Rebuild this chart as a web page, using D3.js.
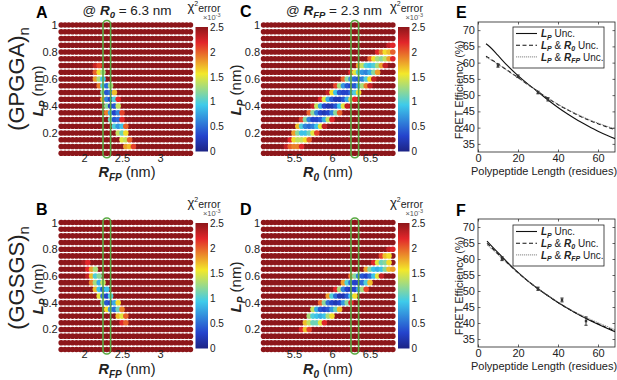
<!DOCTYPE html>
<html>
<head>
<meta charset="utf-8">
<script src="https://cdn.jsdelivr.net/npm/d3@7"></script>
<style>
  body { margin: 0; background: #fff; }
  svg { font-family: "Liberation Sans", Arial, sans-serif; }
</style>
</head>
<body>
<svg id="fig" width="617" height="380"></svg>
<script>
// ---------- DATA ----------

// L_P grid (rows), R_FP / R_0 grids (columns)
var lpGrid  = [0.05, 0.1, 0.15, 0.2, 0.25, 0.3, 0.35, 0.4, 0.45, 0.5,
               0.55, 0.6, 0.65, 0.7, 0.75, 0.8, 0.85, 0.9, 0.95, 1];
var rfpGrid = d3.range(35).map(function (i) { return +(1.7 + 0.05 * i).toFixed(2); });
var r0Grid  = d3.range(35).map(function (i) { return +(5.1 + 0.05 * i).toFixed(2); });

// chi2 error (x1e-3) of the cells below the 2.5 cap:
// [L_P, first column value, values along the row]; every other cell is >= 2.5
var chiA = [
  [0.70, 2.15, [2.3, 2.1]],
  [0.65, 2.15, [2.0, 1.6, 1.3]],
  [0.60, 2.15, [1.8, 1.3, 0.9]],
  [0.55, 2.20, [1.9, 1.0, 0.5, 1.3]],
  [0.50, 2.25, [1.2, 0.4, 0.5, 1.7]],
  [0.45, 2.25, [1.8, 0.6, 0.3, 1.0, 2.2]],
  [0.40, 2.30, [1.2, 0.3, 0.4, 1.4]],
  [0.35, 2.30, [1.9, 0.8, 0.3, 0.6, 2.1]],
  [0.30, 2.35, [1.1, 0.4, 0.5, 2.2]],
  [0.25, 2.40, [1.0, 0.7, 0.9, 2.0]],
  [0.20, 2.45, [1.4, 1.1, 1.6]],
  [0.15, 2.50, [1.5, 1.4, 2.0]],
  [0.10, 2.55, [1.8, 1.7, 2.1]]
];
var chiC = [
  [0.85, 6.75, [2.3, 2.2]],
  [0.80, 6.60, [2.2, 1.9, 1.6, 1.7, 2.0]],
  [0.75, 6.50, [2.0, 1.6, 1.3, 1.2, 1.4, 1.8, 2.2]],
  [0.70, 6.35, [1.8, 1.4, 1.0, 0.9, 1.0, 1.3, 1.8, 2.3]],
  [0.65, 6.25, [2.2, 1.5, 1.0, 0.7, 0.6, 0.8, 1.2, 1.8]],
  [0.60, 6.15, [2.0, 1.2, 0.7, 0.5, 0.4, 0.6, 1.0, 1.6, 2.3]],
  [0.55, 6.05, [2.1, 1.3, 0.7, 0.4, 0.3, 0.4, 0.8, 1.3, 1.9, 2.3]],
  [0.50, 5.95, [2.3, 1.6, 0.9, 0.4, 0.3, 0.3, 0.5, 1.0, 1.6]],
  [0.45, 5.85, [2.2, 1.5, 0.8, 0.4, 0.2, 0.2, 0.4, 0.8, 1.4, 2.2]],
  [0.40, 5.75, [2.3, 1.4, 0.8, 0.3, 0.2, 0.2, 0.4, 0.9, 1.5, 2.3]],
  [0.35, 5.70, [2.0, 1.2, 0.6, 0.3, 0.2, 0.3, 0.6, 1.2, 2.0]],
  [0.30, 5.60, [2.1, 1.2, 0.6, 0.3, 0.3, 0.4, 0.8, 1.4, 2.2]],
  [0.25, 5.55, [1.7, 1.0, 0.6, 0.5, 0.6, 0.9, 1.5, 2.3]],
  [0.20, 5.50, [1.8, 1.2, 0.9, 0.9, 1.1, 1.5, 2.1]],
  [0.15, 5.45, [2.2, 1.6, 1.4, 1.4, 1.6, 2.0]],
  [0.10, 5.40, [2.3, 2.0, 1.9, 1.9, 2.2]]
];
var chiB = [
  [0.70, 2.00, [2.4, 2.2]],
  [0.65, 2.05, [2.2, 1.8, 1.3]],
  [0.60, 2.05, [2.3, 1.7, 1.0, 1.2]],
  [0.55, 2.10, [1.9, 1.3, 0.8, 1.4]],
  [0.50, 2.15, [1.7, 0.9, 0.4, 0.9]],
  [0.45, 2.20, [1.5, 0.5, 0.3, 1.0]],
  [0.40, 2.25, [1.2, 0.4, 0.3, 0.8, 1.6]],
  [0.35, 2.30, [1.6, 0.7, 0.5, 1.1, 1.9]],
  [0.30, 2.45, [1.7, 1.5, 2.0]],
  [0.25, 2.50, [2.2, 2.0]]
];
var chiD = [
  [0.80, 6.75, [2.3, 2.2]],
  [0.75, 6.65, [2.1, 1.7, 1.6]],
  [0.70, 6.55, [2.2, 1.5, 1.1, 1.2, 1.6]],
  [0.65, 6.45, [1.8, 1.2, 0.9, 0.8, 0.9, 1.2, 1.7, 1.8]],
  [0.60, 6.25, [1.9, 1.2, 0.6, 0.4, 0.3, 0.5, 0.9, 1.5, 2.3]],
  [0.55, 6.15, [1.8, 1.0, 0.5, 0.3, 0.3, 0.5, 1.0, 1.7]],
  [0.50, 6.05, [2.2, 1.3, 0.6, 0.3, 0.2, 0.3, 0.7, 1.3, 2.1]],
  [0.45, 5.95, [1.8, 1.0, 0.5, 0.2, 0.2, 0.4, 0.9, 1.6]],
  [0.40, 5.85, [2.0, 1.2, 0.5, 0.3, 0.2, 0.3, 0.7, 1.2, 2.2]],
  [0.35, 5.75, [1.4, 0.8, 0.4, 0.3, 0.4, 0.7, 1.1, 1.7]],
  [0.30, 5.70, [1.3, 1.0, 0.9, 0.8, 0.9, 1.3, 1.6]],
  [0.25, 5.65, [1.7, 1.4, 1.1, 1.1, 1.5, 2.2]],
  [0.20, 5.60, [2.2, 1.7, 2.1]]
];

var chiTicks   = [0, 0.5, 1, 1.5, 2, 2.5];
var lpTicks    = [0.2, 0.4, 0.6, 0.8, 1];
var rfpTicks   = [2, 2.5, 3];
var r0Ticks    = [5.5, 6, 6.5];

// FRET efficiency vs polypeptide length
var lenE     = [4, 6, 10, 15, 20, 25, 30, 35, 40, 45, 50, 55, 60, 65, 68.5];
var effE_lp  = [65.8, 64.8, 62.2, 58.9, 56.0, 53.4, 51.0, 48.5, 46.2, 44.1, 42.2, 40.5, 38.9, 37.5, 36.6];
var effE_r0  = [62.0, 61.2, 59.6, 57.5, 55.4, 53.2, 51.1, 49.0, 47.1, 45.4, 43.8, 42.4, 41.2, 40.1, 39.4];
var effE_rfp = [61.6, 61.0, 59.5, 57.4, 55.3, 53.2, 51.1, 49.1, 47.2, 45.5, 44.0, 42.6, 41.4, 40.3, 39.6];
var ptsLenE  = [10, 20, 30, 35];
var ptsEffE  = [59.1, 55.8, 50.8, 48.7];
var ptsErrE  = [0.5, 0.4, 0.4, 0.5];

var lenF     = [4.5, 6, 10, 15, 20, 25, 30, 35, 40, 45, 50, 55, 60, 65, 68.5];
var effF_lp  = [65.6, 64.6, 62.0, 58.8, 55.8, 53.1, 50.7, 48.5, 46.4, 44.5, 42.7, 41.1, 39.6, 38.2, 37.3];
var effF_r0  = [64.9, 64.0, 61.6, 58.6, 55.7, 53.1, 50.7, 48.5, 46.4, 44.5, 42.8, 41.2, 39.8, 38.4, 37.6];
var effF_rfp = [64.4, 63.6, 61.3, 58.4, 55.6, 53.0, 50.7, 48.6, 46.6, 44.7, 43.0, 41.5, 40.1, 38.8, 37.9];
var ptsLenF  = [12, 30, 42, 54];
var ptsEffF  = [60.1, 50.7, 47.2, 40.6];
var ptsErrF  = [0.6, 0.5, 0.6, 1.3];

var effTicks = [35, 40, 45, 50, 55, 60, 65, 70];
var lenTicks = [0, 20, 40, 60];

// ---------- SETUP ----------
var svg = d3.select('#fig');
var defs = svg.append('defs');

var jetStops  = [0, 0.3125, 0.9375, 1.5625, 2.1875, 2.5];
var jetColors = ['#1c2385', '#2443cc', '#3ecbea', '#f3e82a', '#e2262a', '#8d161a'];
var jet = d3.scaleLinear().domain(jetStops).range(jetColors).clamp(true);
var capColor = jetColors[5];

var grad = defs.append('linearGradient').attr('id', 'jetGrad')
  .attr('x1', 0).attr('y1', 1).attr('x2', 0).attr('y2', 0);
jetStops.forEach(function (s, i) {
  grad.append('stop').attr('offset', s / 2.5).attr('stop-color', jetColors[i]);
});

function key(lp, xv) { return lp.toFixed(2) + '|' + xv.toFixed(2); }

// text made of tspans: {t, bi, dy, fs}
function rich(text, parts) {
  var off = 0;
  parts.forEach(function (p) {
    var target = p.dy || 0;
    var ts = text.append('tspan').text(p.t).attr('dy', target - off);
    off = target;
    if (p.bi) ts.attr('font-weight', 'bold').attr('font-style', 'italic');
    if (p.fs) ts.attr('font-size', p.fs);
  });
  return text;
}

function styleAxis(a, size) {
  a.select('.domain').remove();
  a.attr('font-family', null).attr('font-size', null);
  a.selectAll('text').attr('font-size', size).attr('fill', '#222');
  a.selectAll('line').attr('stroke', '#222').attr('stroke-width', 0.7);
}

/**
 * One chi2 dot map
 */
function heatmap(o) {
  var g = svg.append('g');
  var chi = new Map();
  o.band.forEach(function (row) {
    row[2].forEach(function (v, i) { chi.set(key(row[0], row[1] + 0.05 * i), v); });
  });

  var cells = [];
  lpGrid.forEach(function (lp) {
    o.grid.forEach(function (xv) {
      cells.push({ lp: lp, xv: xv, v: chi.get(key(lp, xv)) });
    });
  });
  // capped cells first, coloured ones drawn on top
  cells.sort(function (a, b) { return (a.v !== undefined) - (b.v !== undefined); });

  g.selectAll('circle').data(cells).join('circle')
    .attr('cx', function (d) { return o.x(d.xv); })
    .attr('cy', function (d) { return o.y(d.lp); })
    .attr('r', 2.8)
    .attr('fill', function (d) { return d.v === undefined ? capColor : jet(d.v); });

  // highlighted column
  var top = o.y(1), bot = o.y(0.05);
  g.append('rect')
    .attr('x', o.x(o.mark) - 3.8).attr('y', top - 4.5)
    .attr('width', 7.6).attr('height', bot - top + 9)
    .attr('rx', 3.5)
    .attr('fill', 'none').attr('stroke', '#5aaa44').attr('stroke-width', 1.6);

  // axes
  g.append('g').attr('transform', 'translate(0,' + (bot - 1) + ')')
    .call(d3.axisBottom(o.x).tickValues(o.xTicks).tickSize(0).tickPadding(1.5)
      .tickFormat(function (d) { return d; }))
    .call(styleAxis, 11);
  g.append('g').attr('transform', 'translate(' + (o.x(o.grid[0]) - 2) + ',0)')
    .call(d3.axisLeft(o.y).tickValues(lpTicks).tickSize(0).tickPadding(1.5)
      .tickFormat(function (d) { return d; }))
    .call(styleAxis, 11);

  // axis titles
  rich(g.append('text').attr('x', o.xTitle[0]).attr('y', o.xTitle[1])
      .attr('text-anchor', 'middle').attr('font-size', 14.5).attr('fill', '#222'),
    o.xName);
  rich(g.append('text')
      .attr('transform', 'translate(' + o.yTitle[0] + ',' + o.yTitle[1] + ') rotate(-90)')
      .attr('text-anchor', 'middle').attr('font-size', 15).attr('fill', '#222'),
    [{ t: 'L', bi: 1 }, { t: 'P', bi: 1, dy: 4, fs: 10 }, { t: ' (nm)' }]);

  // panel letter and title
  g.append('text').attr('x', o.letter[0]).attr('y', o.letter[1])
    .attr('font-size', 16).attr('font-weight', 'bold').text(o.id);
  if (o.title) {
    rich(g.append('text').attr('x', o.title[0]).attr('y', o.title[1])
        .attr('text-anchor', 'middle').attr('font-size', 13.5).attr('fill', '#222'),
      o.titleParts);
  }

  // colour bar
  var cb = d3.scaleLinear().domain([0, 2.5]).range(o.cbY);
  g.append('rect').attr('x', o.cbX).attr('y', o.cbY[1])
    .attr('width', o.cbW).attr('height', o.cbY[0] - o.cbY[1])
    .attr('fill', 'url(#jetGrad)');
  g.append('g').attr('transform', 'translate(' + (o.cbX + o.cbW) + ',0)')
    .call(d3.axisRight(cb).tickValues(chiTicks).tickSize(0).tickPadding(2)
      .tickFormat(function (d) { return d; }))
    .call(styleAxis, 10);
  var tx = o.cbX - 8, ty = o.cbY[1] - 16;
  rich(g.append('text').attr('x', tx).attr('y', ty).attr('font-size', 13).attr('fill', '#222'),
    [{ t: '\u03c7' }, { t: '2', dy: -5, fs: 7 }, { t: 'error', dy: 0.5, fs: 10.5 }]);
  rich(g.append('text').attr('x', tx + 33).attr('y', ty + 8.5)
      .attr('text-anchor', 'end').attr('font-size', 7.5).attr('fill', '#555'),
    [{ t: '\u00d710' }, { t: '-3', dy: -2.5, fs: 5.5 }]);
}

var xRfp = d3.scaleLinear().domain([2, 3]).range([84, 160]);
var xR0  = d3.scaleLinear().domain([5.5, 6.5]).range([294, 370]);
var yTop = d3.scaleLinear().domain([0.05, 1]).range([153.2, 25]);
var yBot = d3.scaleLinear().domain([0.05, 1]).range([349.5, 222.5]);

var rfpName = [{ t: 'R', bi: 1 }, { t: 'FP', bi: 1, dy: 4, fs: 10 }, { t: ' (nm)' }];
var r0Name  = [{ t: 'R', bi: 1 }, { t: '0', bi: 1, dy: 4, fs: 10 }, { t: ' (nm)' }];

heatmap({ id: 'A', band: chiA, grid: rfpGrid, x: xRfp, y: yTop, mark: 2.3,
  xTicks: rfpTicks, xName: rfpName, xTitle: [127, 176.5], yTitle: [43, 91],
  letter: [36, 18], title: [127, 15],
  titleParts: [{ t: '@ ' }, { t: 'R', bi: 1 }, { t: '0', bi: 1, dy: 3, fs: 9.5 }, { t: ' = 6.3 nm' }],
  cbX: 195.5, cbW: 12.5, cbY: [151.5, 27] });
heatmap({ id: 'C', band: chiC, grid: r0Grid, x: xR0, y: yTop, mark: 6.3,
  xTicks: r0Ticks, xName: r0Name, xTitle: [328, 176.5], yTitle: [241, 90],
  letter: [240, 17], title: [334, 15],
  titleParts: [{ t: '@ ' }, { t: 'R', bi: 1 }, { t: 'FP', bi: 1, dy: 3, fs: 9.5 }, { t: ' = 2.3 nm' }],
  cbX: 398, cbW: 11.5, cbY: [151.5, 27] });
heatmap({ id: 'B', band: chiB, grid: rfpGrid, x: xRfp, y: yBot, mark: 2.3,
  xTicks: rfpTicks, xName: rfpName, xTitle: [127, 373.5], yTitle: [43, 289],
  letter: [36, 215],
  cbX: 195.5, cbW: 12.5, cbY: [348.5, 223] });
heatmap({ id: 'D', band: chiD, grid: r0Grid, x: xR0, y: yBot, mark: 6.3,
  xTicks: r0Ticks, xName: r0Name, xTitle: [328, 373.5], yTitle: [241, 287],
  letter: [240, 215],
  cbX: 398, cbW: 11.5, cbY: [348.5, 223] });

// row group labels
[['(GPGGA)', 79], ['(GGSGS)', 278]].forEach(function (r) {
  rich(svg.append('text')
      .attr('transform', 'translate(24,' + r[1] + ') rotate(-90)')
      .attr('text-anchor', 'middle').attr('font-size', 22).attr('fill', '#222'),
    [{ t: r[0] }, { t: 'n', dy: 5, fs: 15 }]);
});

/**
 * FRET efficiency panel
 */
function fretPanel(o) {
  var g = svg.append('g');
  var x = d3.scaleLinear().domain([0, 68.5]).range([478, 615]);
  var y = d3.scaleLinear().domain([32.5, 72.5]).range([o.bottom, o.top]);
  var clipId = 'clip' + o.id;

  defs.append('clipPath').attr('id', clipId).append('rect')
    .attr('x', 478).attr('y', o.top).attr('width', 137).attr('height', o.bottom - o.top);

  var line = d3.line()
    .x(function (d) { return x(d[0]); })
    .y(function (d) { return y(d[1]); })
    .curve(d3.curveMonotoneX);

  var series = [
    { v: o.lp,  stroke: '#111', w: 1.1, dash: null },
    { v: o.r0,  stroke: '#111', w: 1.1, dash: '4,2.5' },
    { v: o.rfp, stroke: '#777', w: 0.9, dash: '1.2,0.8' }
  ];

  var plot = g.append('g').attr('clip-path', 'url(#' + clipId + ')');
  plot.selectAll('path.curve').data(series).join('path')
    .attr('class', 'curve')
    .attr('d', function (s) { return line(o.len.map(function (l, i) { return [l, s.v[i]]; })); })
    .attr('fill', 'none')
    .attr('stroke', function (s) { return s.stroke; })
    .attr('stroke-width', function (s) { return s.w; })
    .attr('stroke-dasharray', function (s) { return s.dash; });

  // measured points with error bars
  var pts = o.ptsLen.map(function (l, i) { return { l: l, e: o.ptsEff[i], err: o.ptsErr[i] }; });
  var eb = plot.selectAll('g.pt').data(pts).join('g').attr('class', 'pt')
    .attr('stroke', '#333').attr('stroke-width', 1);
  eb.append('line')
    .attr('x1', function (d) { return x(d.l); }).attr('x2', function (d) { return x(d.l); })
    .attr('y1', function (d) { return y(d.e - d.err); }).attr('y2', function (d) { return y(d.e + d.err); });
  [-1, 1].forEach(function (s) {
    eb.append('line')
      .attr('x1', function (d) { return x(d.l) - 1.6; }).attr('x2', function (d) { return x(d.l) + 1.6; })
      .attr('y1', function (d) { return y(d.e + s * d.err); }).attr('y2', function (d) { return y(d.e + s * d.err); });
  });
  eb.append('rect')
    .attr('x', function (d) { return x(d.l) - 1.2; }).attr('y', function (d) { return y(d.e) - 1.2; })
    .attr('width', 2.4).attr('height', 2.4).attr('fill', '#333').attr('stroke', 'none');

  // box and ticks
  g.append('rect').attr('x', 478).attr('y', o.top).attr('width', 137).attr('height', o.bottom - o.top)
    .attr('fill', 'none').attr('stroke', '#222').attr('stroke-width', 0.8);
  g.append('g').attr('transform', 'translate(0,' + o.bottom + ')')
    .call(d3.axisBottom(x).tickValues(lenTicks).tickSizeInner(-2.5).tickSizeOuter(0).tickPadding(2))
    .call(styleAxis, 11);
  g.append('g').attr('transform', 'translate(0,' + o.top + ')')
    .call(d3.axisTop(x).tickValues(lenTicks).tickSizeInner(-2.5).tickSizeOuter(0).tickFormat(''))
    .call(styleAxis, 11);
  g.append('g').attr('transform', 'translate(478,0)')
    .call(d3.axisLeft(y).tickValues(effTicks).tickSizeInner(-2.5).tickSizeOuter(0).tickPadding(3))
    .call(styleAxis, 11);
  g.append('g').attr('transform', 'translate(615,0)')
    .call(d3.axisRight(y).tickValues(effTicks).tickSizeInner(-2.5).tickSizeOuter(0).tickFormat(''))
    .call(styleAxis, 11);

  // titles
  g.append('text').attr('x', 544).attr('y', o.bottom + 23)
    .attr('text-anchor', 'middle').attr('font-size', 11).attr('fill', '#222')
    .text('Polypeptide Length (residues)');
  g.append('text')
    .attr('transform', 'translate(463,' + ((o.top + o.bottom) / 2 + 3) + ') rotate(-90)')
    .attr('text-anchor', 'middle').attr('font-size', 11).attr('fill', '#222')
    .text('FRET Efficiency (%)');
  g.append('text').attr('x', 456).attr('y', o.letter)
    .attr('font-size', 16).attr('font-weight', 'bold').text(o.id);

  // legend
  var lg = g.append('g');
  lg.append('rect').attr('x', 513).attr('y', o.legTop).attr('width', 91).attr('height', 41)
    .attr('fill', '#fff').attr('stroke', '#222').attr('stroke-width', 0.8);
  var labels = [
    [{ t: 'L', bi: 1 }, { t: 'P', bi: 1, dy: 2.5, fs: 7 }, { t: ' Unc.' }],
    [{ t: 'L', bi: 1 }, { t: 'P', bi: 1, dy: 2.5, fs: 7 }, { t: ' & ' }, { t: 'R', bi: 1 },
     { t: '0', bi: 1, dy: 2.5, fs: 7 }, { t: ' Unc.' }],
    [{ t: 'L', bi: 1 }, { t: 'P', bi: 1, dy: 2.5, fs: 7 }, { t: ' & ' }, { t: 'R', bi: 1 },
     { t: 'FP', bi: 1, dy: 2.5, fs: 7 }, { t: ' Unc.' }]
  ];
  series.forEach(function (s, i) {
    var ly = o.legTop + 6.5 + i * 11.7;
    lg.append('line').attr('x1', 516).attr('x2', 537).attr('y1', ly).attr('y2', ly)
      .attr('stroke', s.stroke).attr('stroke-width', s.w).attr('stroke-dasharray', s.dash);
    rich(lg.append('text').attr('x', 541).attr('y', ly + 3.6).attr('font-size', 10).attr('fill', '#222'),
      labels[i]);
  });
}

fretPanel({ id: 'E', top: 22, bottom: 152, letter: 18, legTop: 27,
  len: lenE, lp: effE_lp, r0: effE_r0, rfp: effE_rfp,
  ptsLen: ptsLenE, ptsEff: ptsEffE, ptsErr: ptsErrE });
fretPanel({ id: 'F', top: 219, bottom: 347, letter: 216, legTop: 225,
  len: lenF, lp: effF_lp, r0: effF_r0, rfp: effF_rfp,
  ptsLen: ptsLenF, ptsEff: ptsEffF, ptsErr: ptsErrF });
</script>
</body>
</html>
